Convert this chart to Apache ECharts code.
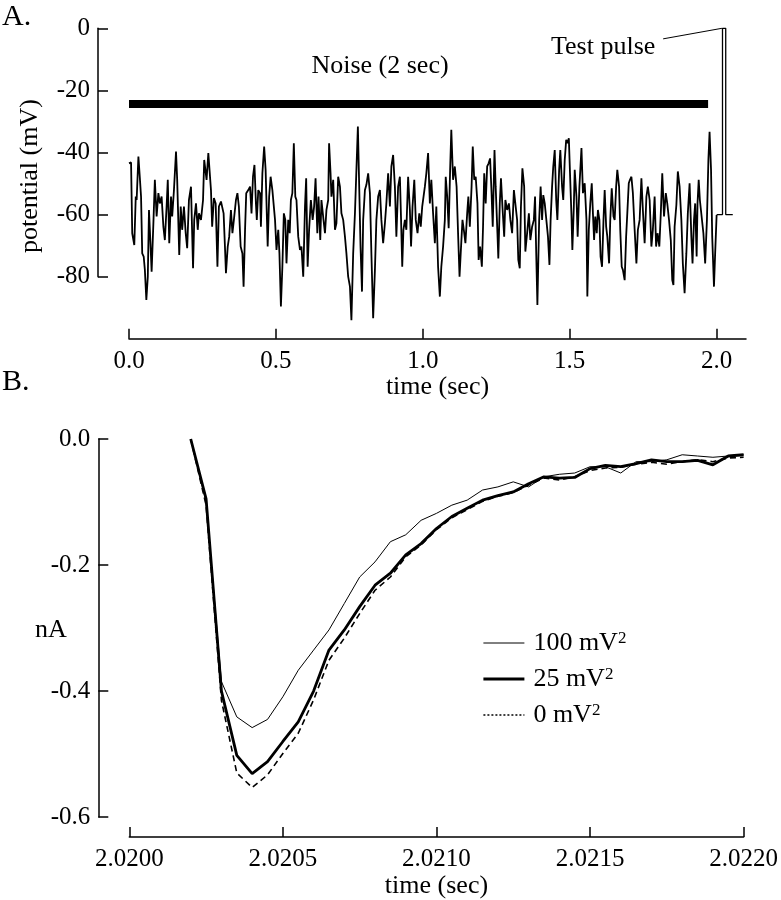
<!DOCTYPE html>
<html><head><meta charset="utf-8">
<script src="https://cdn.jsdelivr.net/npm/echarts@6/dist/echarts.min.js"></script>
<style>html,body{margin:0;padding:0;background:#fff}#c{width:781px;height:900px}</style>
</head><body><div id="c"></div><script>
// ---------- Panel A: noise trace (time in s, potential in mV) ----------
const noiseT1 = [0.000,0.007,0.011,0.018,0.023,0.026,0.032,0.037,0.041,0.045,0.050,0.054,0.059,0.064,0.068,0.073,0.077,0.083,0.088,0.094,0.100,0.105,0.111,0.117,0.122,0.128,0.132,0.137,0.143,0.147,0.153,0.160,0.164,0.171,0.176,0.181,0.187,0.193,0.198,0.204,0.211,0.218,0.222,0.228,0.234,0.238,0.245,0.252,0.256,0.261,0.264,0.270,0.276,0.279,0.283,0.289,0.295,0.301,0.306,0.313,0.318,0.322,0.327,0.330,0.336,0.341,0.347,0.352,0.357,0.364,0.369,0.374,0.380,0.386,0.390,0.395,0.399,0.406,0.412,0.417,0.422,0.427,0.432,0.435,0.440,0.446,0.449,0.454,0.460,0.465,0.472,0.477,0.482,0.488];
const noiseV1 = [-43.5,-43.2,-66.0,-69.8,-54.2,-55.3,-41.3,-48.3,-54.2,-72.5,-73.5,-77.8,-87.5,-80.0,-58.5,-69.2,-78.4,-62.8,-48.8,-60.6,-53.1,-56.4,-54.2,-63.9,-68.2,-57.4,-48.8,-69.2,-54.2,-60.6,-52.1,-39.7,-48.8,-73.0,-57.4,-64.9,-57.4,-66.0,-70.8,-55.3,-51.0,-77.3,-61.7,-56.4,-64.9,-59.6,-61.7,-55.3,-42.4,-41.9,-48.8,-40.2,-40.2,-52.1,-63.9,-54.7,-56.4,-76.8,-57.4,-55.8,-55.3,-59.6,-71.4,-78.9,-70.3,-67.1,-58.5,-66.0,-61.7,-55.3,-53.1,-57.4,-70.3,-72.5,-83.2,-64.9,-53.1,-52.1,-51.0,-59.6,-47.8,-44.0,-56.4,-61.7,-52.1,-53.1,-63.9,-46.7,-38.1,-45.6,-70.3,-54.2,-47.8,-52.1];
const noiseT2 = [0.497,0.502,0.508,0.512,0.517,0.522,0.527,0.532,0.536,0.542,0.547,0.551,0.556,0.561,0.566,0.570,0.576,0.582,0.587,0.593,0.599,0.603,0.608,0.613,0.619,0.625,0.630,0.635,0.641,0.645,0.651,0.655,0.662,0.667,0.672,0.678,0.681,0.686,0.689,0.695,0.701,0.706,0.712,0.718,0.723,0.729,0.735,0.740,0.746,0.752,0.757,0.763,0.769,0.774,0.779,0.783,0.788,0.793,0.797,0.803,0.808,0.814,0.820,0.825,0.831,0.837,0.842,0.848,0.854,0.859,0.865,0.871,0.876,0.882,0.888,0.893,0.899,0.905,0.910,0.916,0.922,0.926,0.930,0.934,0.939,0.944,0.950,0.956,0.960,0.965,0.971,0.976,0.982,0.988,0.993,0.998];
const noiseV2 = [-61.7,-71.4,-64.9,-72.5,-89.6,-76.8,-59.6,-61.7,-75.7,-61.7,-66.0,-55.3,-53.1,-37.0,-54.2,-55.3,-67.1,-71.4,-70.3,-80.0,-57.4,-48.3,-76.8,-64.9,-55.3,-61.7,-57.4,-48.3,-66.0,-54.2,-68.2,-55.3,-61.7,-66.0,-58.5,-55.3,-37.0,-46.7,-54.2,-48.8,-64.9,-62.8,-47.8,-51.0,-59.6,-61.7,-67.1,-72.5,-80.0,-83.2,-94.0,-72.5,-59.6,-45.6,-31.6,-48.8,-70.3,-84.8,-61.7,-52.1,-50.4,-46.7,-53.1,-72.5,-93.4,-77.8,-61.7,-54.2,-52.1,-61.7,-69.2,-62.8,-56.4,-46.7,-57.4,-44.5,-40.8,-51.0,-67.1,-51.0,-47.8,-61.7,-76.8,-64.9,-61.7,-64.9,-47.8,-58.5,-70.3,-57.4,-48.8,-61.7,-66.0,-59.6,-63.9,-57.4];
const noiseT3 = [1.007,1.012,1.018,1.024,1.029,1.035,1.041,1.046,1.052,1.058,1.063,1.069,1.075,1.078,1.083,1.088,1.093,1.097,1.103,1.109,1.115,1.120,1.125,1.129,1.135,1.141,1.145,1.151,1.155,1.160,1.166,1.170,1.175,1.180,1.186,1.190,1.195,1.201,1.205,1.209,1.214,1.219,1.224,1.229,1.234,1.238,1.244,1.248,1.254,1.257,1.262,1.266,1.271,1.277,1.281,1.287,1.293,1.298,1.304,1.310,1.315,1.321,1.325,1.330,1.334,1.339,1.345,1.349,1.355,1.361,1.366,1.372,1.378,1.382,1.386,1.390,1.396,1.401,1.406,1.410,1.415,1.421,1.426,1.431,1.435,1.440,1.444,1.449,1.454,1.458,1.464,1.468,1.474,1.478,1.483,1.488,1.492,1.497,1.501,1.506,1.509,1.514];
const noiseV3 = [-51.0,-46.7,-40.2,-56.4,-48.8,-59.6,-69.2,-57.4,-76.8,-86.4,-76.8,-70.3,-61.7,-47.8,-54.2,-64.4,-45.6,-32.7,-48.8,-44.5,-51.0,-66.0,-80.0,-72.5,-61.7,-66.0,-69.2,-59.6,-54.2,-63.9,-51.0,-38.1,-48.8,-47.8,-56.4,-74.6,-70.3,-76.8,-63.9,-46.7,-56.4,-44.5,-43.5,-41.9,-53.1,-63.9,-39.2,-51.0,-66.0,-74.1,-56.4,-48.3,-57.4,-67.1,-55.3,-58.5,-56.4,-61.7,-66.0,-52.1,-52.1,-61.7,-74.6,-77.3,-57.4,-45.1,-51.0,-71.9,-66.0,-59.6,-68.2,-63.9,-61.7,-54.2,-72.5,-89.1,-61.7,-51.0,-61.7,-53.7,-56.4,-56.4,-67.1,-76.2,-61.7,-51.0,-44.5,-39.2,-55.3,-61.7,-45.6,-39.2,-51.0,-55.3,-42.4,-35.9,-37.0,-35.4,-46.7,-60.6,-71.4,-57.4];
const noiseT4 = [1.517,1.523,1.527,1.533,1.540,1.545,1.551,1.557,1.560,1.565,1.570,1.575,1.579,1.583,1.587,1.592,1.596,1.601,1.605,1.610,1.615,1.619,1.624,1.628,1.634,1.638,1.643,1.649,1.653,1.658,1.662,1.668,1.672,1.677,1.681,1.687,1.692,1.696,1.701,1.705,1.710,1.715,1.721,1.727,1.732,1.738,1.744,1.749,1.755,1.761,1.766,1.772,1.778,1.783,1.789,1.794,1.799,1.805,1.810,1.815,1.821,1.827,1.832,1.838,1.844,1.849,1.853,1.857,1.863,1.868,1.874,1.880,1.885,1.891,1.897,1.902,1.908,1.914,1.918,1.923,1.927,1.932,1.935,1.939,1.943,1.949,1.955,1.961,1.967,1.972,1.976,1.981,1.985,1.991,1.995,2.000];
const noiseV4 = [-45.6,-54.2,-67.1,-51.0,-38.6,-53.1,-49.9,-61.7,-86.4,-64.9,-56.4,-49.9,-59.6,-68.2,-60.6,-66.0,-58.5,-61.7,-73.5,-76.8,-61.7,-52.1,-63.9,-67.1,-75.7,-61.7,-51.5,-60.6,-61.7,-51.0,-45.6,-51.0,-64.9,-76.8,-77.8,-81.1,-67.1,-59.6,-49.9,-48.8,-47.8,-53.1,-64.9,-75.7,-64.9,-61.7,-48.3,-58.5,-69.2,-54.2,-51.0,-55.3,-70.3,-64.9,-54.2,-70.3,-66.0,-70.3,-59.6,-46.7,-60.6,-53.1,-56.4,-61.7,-68.2,-81.1,-82.7,-63.9,-56.9,-46.1,-51.0,-61.7,-75.7,-85.3,-72.5,-59.6,-49.9,-67.1,-75.7,-61.7,-56.4,-73.5,-56.4,-48.8,-55.3,-55.3,-66.0,-75.7,-61.7,-42.4,-33.3,-45.6,-67.1,-83.2,-72.5,-60.1];
const pulseT = [2.000, 2.020, 2.020, 2.031, 2.031, 2.055];
const pulseV = [-60, -60, 0, 0, -60, -60];
const noiseBarT = [0, 1.971];
const noiseBarV = [-24.4, -24.4];
const leaderT = [1.818, 2.018];
const leaderV = [-3.4, 0];
const aTimeTicks = [0, 0.5, 1.0, 1.5, 2.0];

// ---------- Panel B: current responses (time in s, current in nA) ----------
const bTime = [2.02020,2.02025,2.02030,2.02035,2.02040,2.02045,2.02050,2.02055,2.02060,2.02065,2.02070,2.02075,2.02080,2.02085,2.02090,2.02095,2.02100,2.02105,2.02110,2.02115,2.02120,2.02125,2.02130,2.02135,2.02140,2.02145,2.02150,2.02155,2.02160,2.02165,2.02170,2.02175,2.02180,2.02185,2.02190,2.02195,2.02200];
const i100 = [0,-0.100,-0.385,-0.441,-0.458,-0.445,-0.409,-0.367,-0.335,-0.303,-0.261,-0.219,-0.195,-0.163,-0.152,-0.129,-0.118,-0.105,-0.097,-0.081,-0.076,-0.068,-0.076,-0.060,-0.056,-0.054,-0.044,-0.044,-0.054,-0.036,-0.036,-0.033,-0.025,-0.027,-0.029,-0.027,-0.025];
const i25 = [0,-0.095,-0.400,-0.502,-0.531,-0.512,-0.480,-0.449,-0.400,-0.335,-0.303,-0.266,-0.232,-0.213,-0.184,-0.166,-0.142,-0.123,-0.110,-0.097,-0.090,-0.084,-0.071,-0.060,-0.062,-0.061,-0.047,-0.042,-0.044,-0.039,-0.033,-0.036,-0.036,-0.034,-0.041,-0.027,-0.025];
const i0 = [0,-0.105,-0.415,-0.530,-0.553,-0.533,-0.499,-0.467,-0.414,-0.351,-0.316,-0.277,-0.240,-0.219,-0.187,-0.168,-0.144,-0.125,-0.112,-0.099,-0.091,-0.085,-0.073,-0.062,-0.065,-0.060,-0.050,-0.046,-0.045,-0.040,-0.037,-0.040,-0.036,-0.033,-0.036,-0.030,-0.029];
const seriesNames = ['100 mV²', '25 mV²', '0 mV²'];

const zip = (a, b) => a.map((x, i) => [x, b[i]]);
const FONT = 'Liberation Serif';
const AX = {color: '#000', width: 1.5};
const lbl = {fontSize: 25, fontFamily: FONT, color: '#000'};
const nm = {fontSize: 26, fontFamily: FONT, color: '#000'};
const hideSym = {opacity: 0, borderWidth: 0};
const txt = (s, x, y, size, align, extra) => Object.assign({type: 'text', x: x, y: y,
  style: {text: s, fontSize: size, fontFamily: FONT, fill: '#000', align: align, verticalAlign: 'middle', textAlign: align, textVerticalAlign: 'middle'}}, extra || {});

const chart = echarts.init(document.getElementById('c'), null, {renderer: 'canvas'});
chart.setOption({
  backgroundColor: '#fff',
  animation: false,
  textStyle: {fontFamily: FONT, color: '#000'},
  grid: [
    {left: 129, top: 28.3, width: 617, height: 248.4},
    {left: 129.3, top: 439, width: 616, height: 379}
  ],
  xAxis: [
    {gridIndex: 0, type: 'value', min: 0, max: 2.1, offset: 62, position: 'bottom',
     axisLine: {show: true, onZero: false, lineStyle: AX},
     axisTick: {show: true, inside: true, length: 10, lineStyle: AX, customValues: aTimeTicks},
     axisLabel: Object.assign({show: true, customValues: aTimeTicks, margin: 10, hideOverlap: false,
       formatter: v => v.toFixed(1)}, lbl),
     splitLine: {show: false},
     name: 'time (sec)', nameLocation: 'middle', nameGap: 31, nameTextStyle: nm},
    {gridIndex: 1, type: 'value', min: 2.02, max: 2.022, interval: 0.0005, offset: 20, position: 'bottom',
     axisLine: {show: true, onZero: false, lineStyle: AX},
     axisTick: {show: true, inside: true, length: 10, lineStyle: AX},
     axisLabel: Object.assign({show: true, margin: 10, hideOverlap: false, showMinLabel: true, showMaxLabel: true,
       formatter: v => v.toFixed(4)}, lbl),
     splitLine: {show: false},
     name: 'time (sec)', nameLocation: 'middle', nameGap: 33, nameTextStyle: nm}
  ],
  yAxis: [
    {gridIndex: 0, type: 'value', min: -80, max: 0, interval: 20, offset: 31, position: 'left',
     axisLine: {show: true, onZero: false, lineStyle: AX},
     axisTick: {show: true, inside: true, length: 10, lineStyle: AX},
     axisLabel: Object.assign({show: true, margin: 8, hideOverlap: false}, lbl),
     splitLine: {show: false}},
    {gridIndex: 1, type: 'value', min: -0.6, max: 0, interval: 0.2, offset: 31, position: 'left',
     axisLine: {show: true, onZero: false, lineStyle: AX},
     axisTick: {show: true, inside: true, length: 10, lineStyle: AX},
     axisLabel: Object.assign({show: true, margin: 8, hideOverlap: false, formatter: v => (Math.abs(v) < 1e-9 ? 0 : v).toFixed(1)}, lbl),
     splitLine: {show: false}}
  ],
  legend: {
    orient: 'vertical', left: 482, top: 630, padding: 0, itemGap: 10,
    itemWidth: 41, itemHeight: 14, selectedMode: false,
    itemStyle: hideSym,
    data: [
      {name: seriesNames[0], itemStyle: hideSym, lineStyle: {width: 1}},
      {name: seriesNames[1], itemStyle: hideSym, lineStyle: {width: 2.8}},
      {name: seriesNames[2], itemStyle: hideSym, lineStyle: {type: [2, 2], width: 1.5}}
    ],
    formatter: n => '{t|' + n.replace('²', '') + '}{s|2}',
    textStyle: {rich: {
      t: {fontSize: 26, fontFamily: FONT, color: '#000', lineHeight: 26, padding: [0, 0, 0, 4]},
      s: {fontSize: 17, fontFamily: FONT, color: '#000', verticalAlign: 'top', lineHeight: 17}
    }}
  },
  series: [
    {type: 'line', xAxisIndex: 0, yAxisIndex: 0, data: zip(noiseT1.concat(noiseT2, noiseT3, noiseT4), noiseV1.concat(noiseV2, noiseV3, noiseV4)),
     symbol: 'none', clip: false, lineStyle: {color: '#000', width: 1.8}, silent: true},
    {type: 'line', xAxisIndex: 0, yAxisIndex: 0, data: zip(pulseT, pulseV),
     symbol: 'none', clip: false, lineStyle: {color: '#000', width: 1.3}, silent: true},
    {type: 'line', xAxisIndex: 0, yAxisIndex: 0, data: zip(noiseBarT, noiseBarV),
     symbol: 'none', clip: false, lineStyle: {color: '#000', width: 8, cap: 'butt'}, silent: true},
    {type: 'line', xAxisIndex: 0, yAxisIndex: 0, data: zip(leaderT, leaderV),
     symbol: 'none', clip: false, lineStyle: {color: '#000', width: 1}, silent: true},
    {name: seriesNames[0], type: 'line', xAxisIndex: 1, yAxisIndex: 1, data: zip(bTime, i100),
     symbol: 'none', lineStyle: {color: '#000', width: 1}, itemStyle: {color: '#000'}},
    {name: seriesNames[1], type: 'line', xAxisIndex: 1, yAxisIndex: 1, data: zip(bTime, i25),
     symbol: 'none', lineStyle: {color: '#000', width: 2.8}, itemStyle: {color: '#000'}},
    {name: seriesNames[2], type: 'line', xAxisIndex: 1, yAxisIndex: 1, data: zip(bTime, i0),
     symbol: 'none', lineStyle: {color: '#000', width: 1.6, type: [6, 4]}, itemStyle: {color: '#000'}}
  ],
  graphic: [
    txt('A.', 2, 17, 30, 'left'),
    txt('B.', 2, 382, 30, 'left'),
    txt('Noise (2 sec)', 380, 66, 26, 'center'),
    txt('Test pulse', 551, 47, 26, 'left'),
    txt('potential (mV)', 30, 176, 26, 'center', {rotation: Math.PI / 2}),
    txt('nA', 51, 630, 26, 'center')
  ]
});
</script></body></html>
